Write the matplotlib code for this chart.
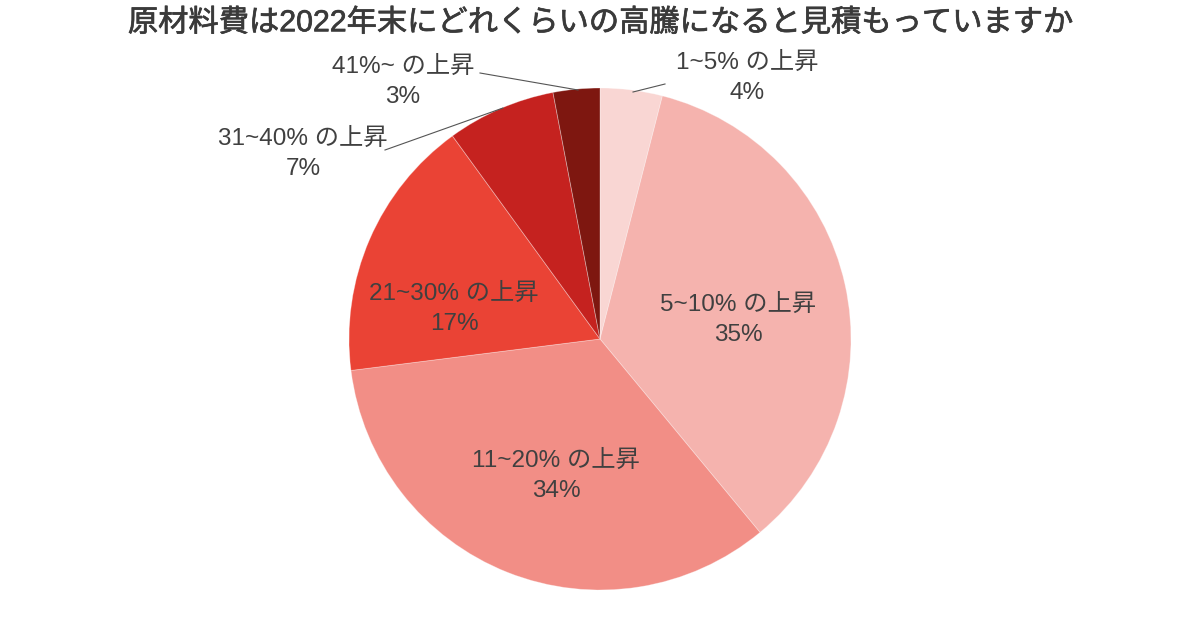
import numpy as np
import matplotlib
matplotlib.use("Agg")
import matplotlib.pyplot as plt
import matplotlib.patheffects as pe

plt.rcParams['font.family'] = ['Liberation Sans', 'Noto Sans CJK JP', 'DejaVu Sans']

title = "原材料費は2022年末にどれくらいの高騰になると見積もっていますか"
categories = ["1~5% の上昇", "5~10% の上昇", "11~20% の上昇",
              "21~30% の上昇", "31~40% の上昇", "41%~ の上昇"]
shares = [4, 35, 34, 17, 7, 3]
colors = ["#f9d6d3", "#f5b3ae", "#f28e86", "#ea4335", "#c5221f", "#7e1710"]

# label placement (pixel coords, y from top) – inside for big slices, outside w/ leader line for small
label_pos = [(747, 78), (738, 320), (556, 476), (454, 309), (303, 154), (403, 82)]
leader = [((633, 92), (665, 84)), None, None, None,
          ((503, 108), (385, 150)), ((578, 90), (480, 73))]

W, H = 1200, 634
fig = plt.figure(figsize=(12, 6.34), dpi=100)
ax = fig.add_axes([0, 0, 1, 1])

ax.pie(shares, colors=colors, startangle=90, counterclock=False,
       center=(600, H - 339), radius=251, frame=True,
       wedgeprops=dict(linewidth=0.6, edgecolor=(1, 1, 1, 0.35)))
ax.set_xlim(0, W)
ax.set_ylim(0, H)
ax.set_aspect('equal')
ax.axis('off')

txt = "#404040"
for cat, v, (x, y), ln in zip(categories, shares, label_pos, leader):
    ax.text(x, H - y, f"{cat}\n{v}%", ha='center', va='center',
            fontsize=17.5, color=txt, linespacing=1.5)
    if ln is not None:
        (x0, y0), (x1, y1) = ln
        ax.plot([x0, x1], [H - y0, H - y1], color="#555555", lw=0.8)

# title looks semi-bold in the original, thicken regular strokes a bit
fig.text(0.5, 1 - 23 / H, title, ha='center', va='center',
         fontsize=21.8, color="#3a3a3a",
         path_effects=[pe.withStroke(linewidth=0.5, foreground="#3a3a3a")])

fig.savefig("out.png", dpi=100, facecolor='white')
